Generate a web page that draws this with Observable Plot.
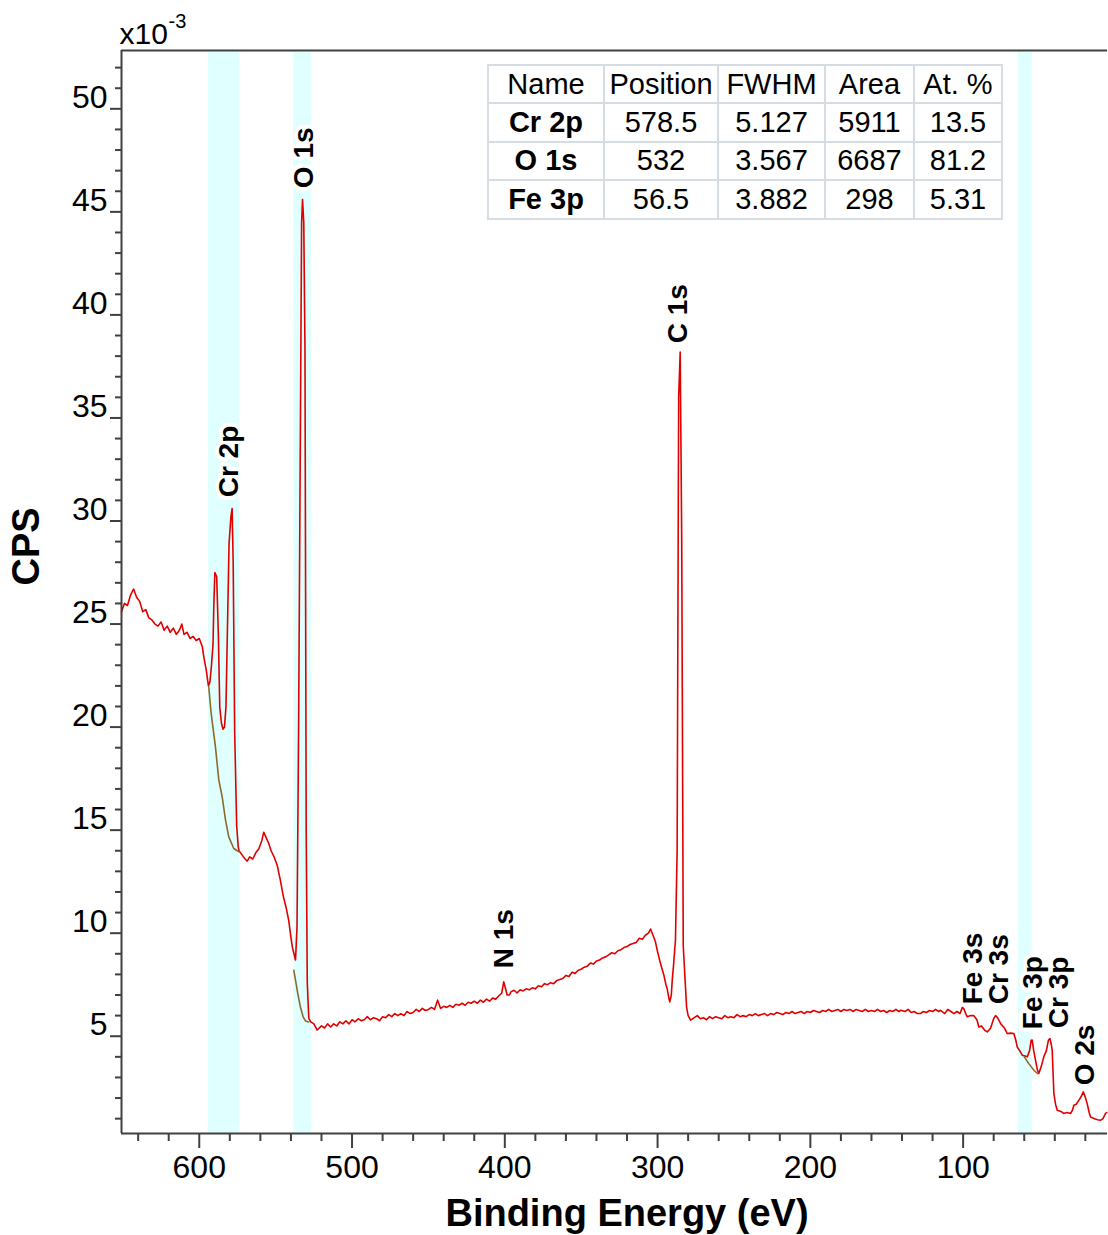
<!DOCTYPE html>
<html><head><meta charset="utf-8">
<script src="https://cdn.jsdelivr.net/npm/d3@7"></script>
<script src="https://cdn.jsdelivr.net/npm/@observablehq/plot@0.6"></script>
<style>
html,body{margin:0;padding:0;background:#fff;}
#wrap{position:relative;width:1108px;height:1235px;overflow:hidden;font-family:"Liberation Sans",Arial,sans-serif;}
#chart svg{display:block;}
#tbl{position:absolute;left:487px;top:64px;border-collapse:collapse;background:#fff;font-size:29px;color:#000;table-layout:fixed;}
#tbl td{border:2px solid #d5dce4;text-align:center;padding:0;height:36.4px;line-height:1;white-space:nowrap;}
#tbl tr.body td:first-child{font-weight:bold;}
</style></head>
<body><div id="wrap"><div id="chart"></div><table id="tbl"></table></div>
<script>
// ---------- data ----------
const xDomain = [650.9, 5.5];
const yDomain = [0.28, 52.83];
const xMajor = [600, 500, 400, 300, 200, 100];
const xMinor = [640,620,580,560,540,520,480,460,440,420,380,360,340,320,280,260,240,220,180,160,140,120,80,60,40,20];
const yMajor = [5, 10, 15, 20, 25, 30, 35, 40, 45, 50];
const yMinor = [1,2,3,4,6,7,8,9,11,12,13,14,16,17,18,19,21,22,23,24,26,27,28,29,31,32,33,34,36,37,38,39,41,42,43,44,46,47,48,49,51,52];

// survey spectrum: [binding energy (eV), CPS x1e-3]
const spectrum = [
[650.9,25.6],[649,26.0],[647,25.9],[645,26.4],[643,26.7],[641,26.3],[639,26.1],[637,25.6],[635,25.7],[633,25.3],[631,25.2],[629,25.0],[627,24.9],[625,25.1],[623,24.7],[621,24.9],[619,24.6],[617,24.8],[615,24.5],[613,24.7],[611.4,25.0],[610,24.5],[608,24.6],[606,24.3],[604,24.4],[602,24.2],[600,24.3],[598,23.9],[597,23.4],[595.5,22.8],[594,22.0],
[593,22.2],[592,23.0],[591,24.0],[590.5,25.8],[589.8,27.5],[588.6,27.3],[587.5,24.5],[586.6,21.0],[585.5,20.2],[584.5,19.9],[583.5,20.0],[582.5,21.0],[581.5,25.0],[580.5,28.9],[579.3,30.2],[578.5,30.6],[577.8,28.0],[576.8,19.7],[575.5,15.2],[574.5,14.2],[574.0,14.0],
[572,13.8],[570,13.6],[568.6,13.5],[567,13.7],[565,13.6],[563,13.9],[561,14.1],[559,14.5],[557.8,14.9],[556,14.6],[554.5,14.35],[553,14.0],[551,13.7],[549,13.3],[547,12.6],[545,11.8],[543,11.2],[541.4,10.6],[540,9.8],[539,9.3],[538,9.0],[537,8.7],
[536,10.3],[535,19.7],[534,32.0],[533,44.5],[532.4,45.6],[531.6,44.5],[530.8,38.4],[530,15.0],[529.3,7.6],[528.3,5.87],[527,5.7],[525,5.6],[522.8,5.3],
[520,5.5],[518,5.4],[516,5.6],[514,5.45],[512,5.6],[510,5.5],[508,5.7],[506,5.6],[504,5.75],[502,5.6],[500,5.8],[498,5.7],[496,5.85],[494,5.75],[492,5.8],[490,5.95],[488,5.8],[486,5.9],[484,5.85],[482,5.75],[480,5.95],[478,5.9],[476,6.05],[474,5.95],[472,6.1],[470,6.0],[468,6.1],[466,6.0],[464,6.2],[462,6.1],[460,6.15],[458,6.3],[456,6.2],[454,6.35],[452,6.25],[450,6.3],[448,6.4],[446,6.3],[444,6.75],[442,6.35],[440,6.45],[438,6.4],[436,6.5],[434,6.4],[432,6.55],[430,6.5],[428,6.6],[426,6.5],[424,6.65],[422,6.6],[420,6.7],[418,6.6],[416,6.75],[414,6.65],[412,6.8],[410,6.7],[408,6.85],[406,6.8],[404,6.95],[402,7.1],[400.7,7.64],[399.5,7.3],[398.5,7.0],[397,7.0],[396,7.15],[394,7.23],[392,7.1],[390,7.25],[388,7.2],[386,7.3],[384,7.25],[382,7.35],[380,7.3],[378,7.45],[376,7.4],[374,7.55],[372,7.5],[370,7.6],[368,7.55],[366,7.7],[364,7.75],[362,7.8],[360,7.95],[358,7.9],[356,8.1],[354,8.05],[352,8.2],[350,8.25],[348,8.35],[346,8.4],[344,8.55],[342,8.5],[340,8.65],[338,8.7],[336,8.8],[334,8.85],[332,8.95],[330,9.05],[328,9.0],[326,9.15],[324,9.2],[322,9.3],[320,9.35],[318,9.45],[316,9.5],[314,9.55],[312,9.75],[310,9.7],[308,9.9],[306,10.0],[304.6,10.2],[303,9.9],[301.4,9.58],[300,9.1],[298,8.5],[296,8.0],[294.5,7.5],[293.7,7.3],[292.5,6.8],[292,6.67],[291,7.0],[290.4,7.72],[289.5,8.5],[288.3,9.66],[287.2,14.0],[286.2,36.0],[285.2,38.2],[284.2,29.1],[283.2,9.4],[282.2,8.0],[281,6.4],[280,6.0],[278.4,5.78],
[276,5.9],[274,6.0],[272,5.85],[270,5.9],[268,5.8],[266,5.95],[264,5.85],[262,5.95],[260,5.9],[258,5.85],[256,6.0],[254,5.9],[252,5.95],[250,5.9],[248,6.05],[246,5.95],[244,6.0],[242,5.95],[240,6.05],[238,6.0],[236,6.1],[234,6.0],[232,6.05],[230,6.1],[228,6.0],[226,6.1],[224,6.05],[222,6.15],[220,6.1],[218,6.05],[216,6.15],[214,6.1],[212,6.2],[210,6.1],[208,6.15],[206,6.2],[204,6.1],[202,6.2],[200,6.15],[198,6.25],[196,6.2],[194,6.15],[192,6.25],[190,6.2],[188,6.3],[186,6.2],[184,6.25],[182,6.3],[180,6.2],[178,6.3],[176,6.25],[174,6.3],[172,6.2],[170,6.3],[168,6.25],[166,6.2],[164,6.3],[162,6.2],[160,6.25],[158,6.2],[156,6.3],[154,6.2],[152,6.25],[150,6.15],[148,6.25],[146,6.2],[144,6.3],[142,6.2],[140.9,6.26],[138,6.2],[136,6.3],[134,6.15],[132,6.2],[130,6.1],[128,6.1],[126,6.2],[124,6.15],[122,6.25],[120,6.2],[118,6.3],[116,6.2],[114.8,6.26],[112,6.1],[110,6.3],[108,6.2],[106,6.1],[104,6.2],[102,6.1],[100.5,6.4],[99.6,6.34],[98,6.05],[97.3,5.94],[95,6.0],[93,6.0],[91,5.8],[89.7,5.45],[88,5.5],[86,5.3],[84.2,5.21],[82,5.4],[80,5.85],[78.8,6.0],[77.5,5.9],[75.5,5.62],[73,5.4],[71.1,5.13],[69,5.15],[66.8,5.13],[65.5,4.8],[64.6,4.48],[63,4.3],[61.3,4.08],[60,4.05],[58,4.0],[56.5,4.3],[55.5,4.8],[54.8,4.81],[53.8,4.3],[52.6,3.83],[51.5,3.4],[50.5,3.19],[49,3.5],[47.2,4.0],[45.5,4.3],[44.2,4.8],[43.2,4.89],[42.3,4.6],[41.7,4.32],[40.6,2.22],[39.5,1.7],[38.4,1.41],[36,1.35],[34.1,1.25],[32,1.3],[29.7,1.25],[28.5,1.4],[27.5,1.65],[26,1.7],[24.3,1.89],[22.5,2.1],[21.4,2.3],[20.3,2.1],[18.8,1.73],[17.5,1.3],[16.6,1.08],[14,1.0],[12,0.95],[10.1,0.92],[8.5,1.0],[6.8,1.25],[6,1.3]
];

// fitted backgrounds under the quantified peaks
const bgCr2p = [[593.8,21.96],[592.2,20.66],[589.4,19.04],[587.2,17.43],[585.0,16.62],[582.8,15.49],[580.7,14.67],[577.4,14.11],[574.1,13.95]];
const bgO1s = [[538.1,8.2],[537.0,7.72],[535.5,7.07],[533.8,6.42],[532.0,5.94],[530.5,5.74],[528.3,5.69]];
const bgFe3p = [[60.0,4.0],[57.0,3.67],[53.7,3.35],[51.3,3.19]];

// quantification regions
const bandFrom = [594.0, 538.1, 63.9];
const bandTo = [573.5, 526.5, 54.8];

// peak labels
const peakNames = ["Cr 2p", "O 1s", "C 1s", "N 1s", "Fe 3s", "Cr 3s", "Fe 3p", "Cr 3p", "O 2s"];
const peakEnergy = [580.2, 531.1, 286.3, 400.8, 93.2, 76.8, 54.5, 37.5, 20.5];
const peakLabelY = [31.15, 46.15, 38.62, 8.3, 6.55, 6.55, 5.34, 5.39, 2.62];

// quantification table
const tableHeader = ["Name", "Position", "FWHM", "Area", "At. %"];
const tableNames = ["Cr 2p", "O 1s", "Fe 3p"];
const tablePosition = ["578.5", "532", "56.5"];
const tableFWHM = ["5.127", "3.567", "3.882"];
const tableArea = ["5911", "6687", "298"];
const tableAt = ["13.5", "81.2", "5.31"];

// ---------- chart ----------
const axisColor = "#404040";
const bands = bandFrom.map((f, i) => ({from: f, to: bandTo[i]}));
const labels = peakNames.map((n, i) => ({name: n, e: peakEnergy[i], v: peakLabelY[i]}));

const chart = Plot.plot({
  width: 1108,
  height: 1235,
  marginLeft: 121,
  marginRight: 1,
  marginTop: 50,
  marginBottom: 102,
  x: {domain: xDomain},
  y: {domain: yDomain},
  style: {fontFamily: "'Liberation Sans', Arial, sans-serif", background: "transparent", overflow: "visible"},
  marks: [
    Plot.rect(bands, {x1: "from", x2: "to", fill: "#e0ffff"}),
    Plot.line(spectrum, {x: d => d[0], y: d => d[1], stroke: "#e00000", strokeWidth: 1.6}),
    Plot.line(bgCr2p, {x: d => d[0], y: d => d[1], stroke: "#8a6a2a", strokeWidth: 1.6}),
    Plot.line(bgO1s, {x: d => d[0], y: d => d[1], stroke: "#8a6a2a", strokeWidth: 1.6}),
    Plot.line(bgFe3p, {x: d => d[0], y: d => d[1], stroke: "#8a6a2a", strokeWidth: 1.6}),
    Plot.text(labels, {x: "e", y: "v", text: "name", rotate: -90, textAnchor: "start", lineAnchor: "middle",
      fontSize: 28, fontWeight: "bold", fill: "black", stroke: "white", strokeWidth: 8, strokeLinejoin: "round", paintOrder: "stroke"}),
    // frame lines
    Plot.ruleX([xDomain[0]], {stroke: axisColor, strokeWidth: 2}),
    Plot.ruleY([yDomain[0]], {stroke: axisColor, strokeWidth: 2}),
    Plot.ruleY([yDomain[1]], {stroke: axisColor, strokeWidth: 2}),
    // y axis
    Plot.axisY(yMinor, {anchor: "left", tickSize: 6, fill: "none", stroke: axisColor, strokeWidth: 2, label: null}),
    Plot.axisY(yMajor, {anchor: "left", tickSize: 11, fill: "none", stroke: axisColor, strokeWidth: 2, label: null}),
    Plot.axisY(yMajor, {anchor: "left", tickSize: 11, tickPadding: 3, stroke: "none", fill: "black", fontSize: 32, dy: -11, label: null, tickFormat: d => String(d)}),
    // x axis
    Plot.axisX(xMinor, {anchor: "bottom", tickSize: 8, fill: "none", stroke: axisColor, strokeWidth: 2, label: null}),
    Plot.axisX(xMajor, {anchor: "bottom", tickSize: 15, fill: "none", stroke: axisColor, strokeWidth: 2, label: null}),
    Plot.axisX(xMajor, {anchor: "bottom", tickSize: 15, tickPadding: 7, stroke: "none", fill: "black", fontSize: 32, label: null, tickFormat: d => String(d)}),
    // axis titles
    Plot.text(["CPS"], {frameAnchor: "left", text: d => d, rotate: -90, textAnchor: "middle", lineAnchor: "middle",
      dx: -95, dy: -45.6, fontSize: 38, fontWeight: "bold", fill: "black"}),
    Plot.text(["Binding Energy (eV)"], {frameAnchor: "bottom", text: d => d, textAnchor: "middle", lineAnchor: "bottom",
      dx: 12.5, dy: 92.5, fontSize: 38, fontWeight: "bold", fill: "black"}),
    Plot.text(["x10"], {frameAnchor: "top-left", text: d => d, textAnchor: "start", lineAnchor: "bottom",
      dx: -2, dy: -6.7, fontSize: 30, fill: "black"}),
    Plot.text(["-3"], {frameAnchor: "top-left", text: d => d, textAnchor: "start", lineAnchor: "bottom",
      dx: 47, dy: -22.5, fontSize: 20, fill: "black"})
  ]
});
document.getElementById("chart").appendChild(chart);

// ---------- table ----------
const colWidths = [114, 112, 105, 87, 86];
const tbl = document.getElementById("tbl");
function addRow(cells, cls) {
  const tr = document.createElement("tr");
  if (cls) tr.className = cls;
  cells.forEach((c, i) => {
    const td = document.createElement("td");
    td.textContent = c;
    td.style.width = colWidths[i] + "px";
    tr.appendChild(td);
  });
  tbl.appendChild(tr);
}
addRow(tableHeader, "head");
tableNames.forEach((n, i) => addRow([n, tablePosition[i], tableFWHM[i], tableArea[i], tableAt[i]], "body"));
</script></body></html>
